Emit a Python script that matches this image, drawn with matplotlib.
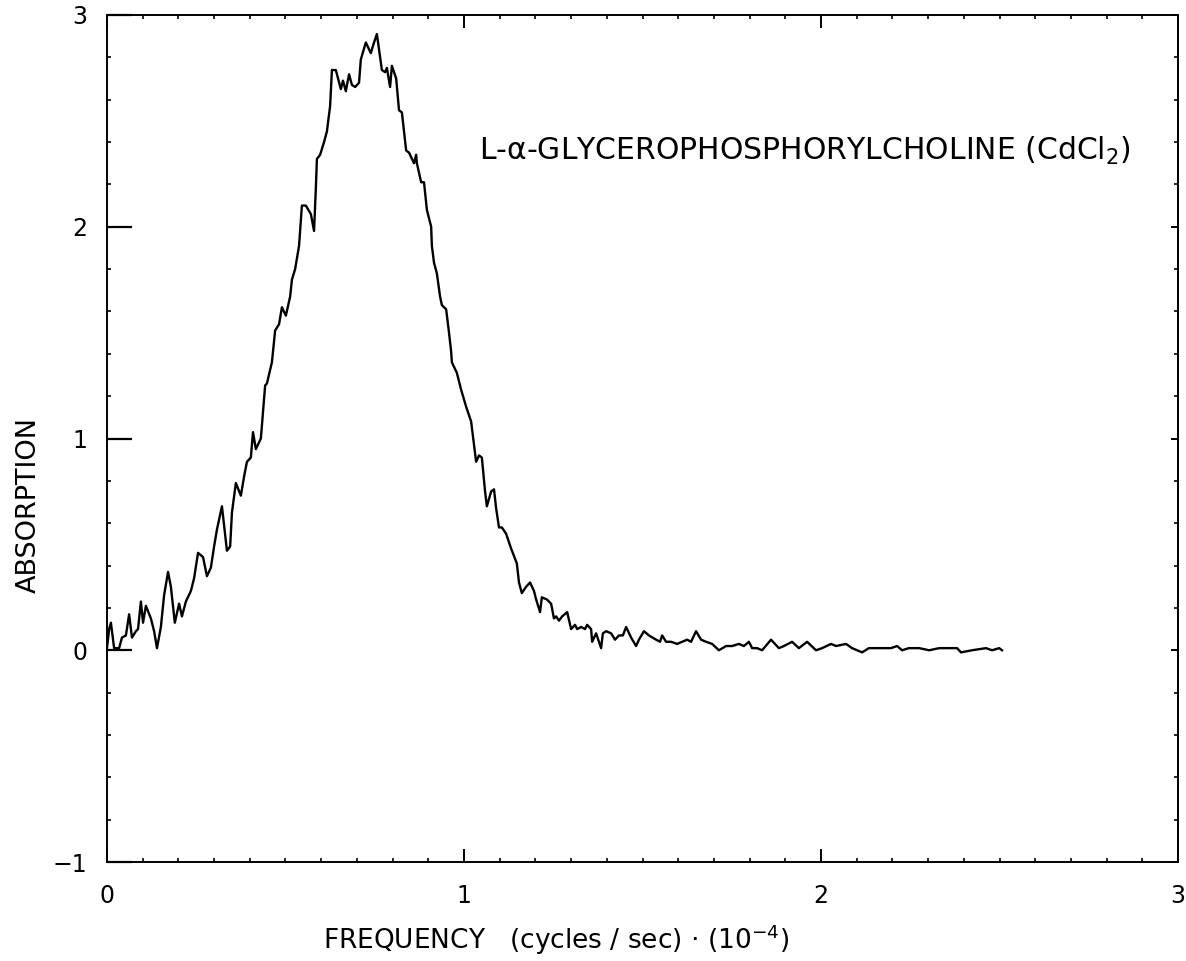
import numpy as np
import matplotlib
matplotlib.use("Agg")
import matplotlib.pyplot as plt
from matplotlib.ticker import MultipleLocator

# spectrum: frequency (x 10^-4 cycles/sec) vs absorption
freq = [0.000, 0.006, 0.011, 0.020, 0.034, 0.042, 0.053, 0.062, 0.070, 0.081,
        0.087, 0.095, 0.101, 0.109, 0.123, 0.132, 0.140, 0.151, 0.160, 0.171,
        0.179, 0.190, 0.202, 0.210, 0.221, 0.235, 0.244, 0.255, 0.269, 0.280,
        0.291, 0.300, 0.308, 0.322, 0.336, 0.345, 0.350, 0.361, 0.375, 0.384,
        0.392, 0.403, 0.409, 0.417, 0.431, 0.443, 0.448, 0.462, 0.471, 0.482,
        0.490, 0.501, 0.513, 0.518, 0.527, 0.538, 0.546, 0.557, 0.571, 0.580,
        0.585, 0.588, 0.597, 0.608, 0.616, 0.625, 0.630, 0.641, 0.655, 0.661,
        0.669, 0.678, 0.686, 0.695, 0.706, 0.711, 0.725, 0.739, 0.748, 0.756,
        0.770, 0.779, 0.784, 0.793, 0.798, 0.810, 0.818, 0.826, 0.838, 0.846,
        0.860, 0.866, 0.868, 0.880, 0.888, 0.896, 0.908, 0.910, 0.916, 0.924,
        0.933, 0.938, 0.950, 0.958, 0.964, 0.966, 0.980, 0.992, 1.006, 1.020,
        1.025, 1.031, 1.034, 1.042, 1.050, 1.059, 1.064, 1.076, 1.084, 1.090,
        1.098, 1.106, 1.118, 1.132, 1.148, 1.154, 1.162, 1.174, 1.185, 1.196,
        1.202, 1.213, 1.218, 1.232, 1.244, 1.252, 1.258, 1.266, 1.275, 1.289,
        1.300, 1.311, 1.317, 1.328, 1.339, 1.345, 1.356, 1.359, 1.370, 1.384,
        1.389, 1.398, 1.412, 1.423, 1.434, 1.445, 1.454, 1.468, 1.482, 1.490,
        1.504, 1.518, 1.538, 1.549, 1.555, 1.566, 1.580, 1.597, 1.611, 1.625,
        1.636, 1.650, 1.664, 1.678, 1.695, 1.714, 1.734, 1.751, 1.770, 1.784,
        1.798, 1.807, 1.821, 1.835, 1.860, 1.882, 1.896, 1.919, 1.938, 1.961,
        1.986, 2.003, 2.028, 2.042, 2.070, 2.087, 2.115, 2.134, 2.171, 2.196,
        2.213, 2.227, 2.246, 2.275, 2.303, 2.331, 2.353, 2.381, 2.392, 2.423,
        2.462, 2.479, 2.499, 2.507]

absorb = [0.01, 0.10, 0.13, 0.01, 0.01, 0.06, 0.07, 0.17, 0.06, 0.09,
          0.10, 0.23, 0.13, 0.21, 0.15, 0.09, 0.01, 0.11, 0.26, 0.37,
          0.30, 0.13, 0.22, 0.16, 0.23, 0.28, 0.34, 0.46, 0.44, 0.35,
          0.39, 0.49, 0.57, 0.68, 0.47, 0.49, 0.65, 0.79, 0.73, 0.82,
          0.89, 0.91, 1.03, 0.95, 1.00, 1.25, 1.26, 1.36, 1.51, 1.54,
          1.62, 1.58, 1.67, 1.75, 1.80, 1.91, 2.10, 2.10, 2.06, 1.98,
          2.18, 2.32, 2.34, 2.40, 2.45, 2.57, 2.74, 2.74, 2.65, 2.69,
          2.64, 2.72, 2.67, 2.66, 2.68, 2.79, 2.87, 2.82, 2.87, 2.91,
          2.74, 2.73, 2.75, 2.66, 2.76, 2.70, 2.55, 2.54, 2.36, 2.35,
          2.30, 2.34, 2.30, 2.21, 2.21, 2.08, 2.00, 1.91, 1.83, 1.78,
          1.67, 1.63, 1.61, 1.50, 1.41, 1.36, 1.31, 1.23, 1.15, 1.08,
          1.01, 0.93, 0.89, 0.92, 0.91, 0.75, 0.68, 0.75, 0.76, 0.67,
          0.58, 0.58, 0.55, 0.48, 0.41, 0.32, 0.27, 0.30, 0.32, 0.28,
          0.24, 0.18, 0.25, 0.24, 0.22, 0.15, 0.16, 0.14, 0.16, 0.18,
          0.10, 0.12, 0.10, 0.11, 0.10, 0.12, 0.10, 0.04, 0.08, 0.01,
          0.08, 0.09, 0.08, 0.05, 0.07, 0.07, 0.11, 0.06, 0.02, 0.05,
          0.09, 0.07, 0.05, 0.04, 0.07, 0.04, 0.04, 0.03, 0.04, 0.05,
          0.04, 0.09, 0.05, 0.04, 0.03, 0.00, 0.02, 0.02, 0.03, 0.02,
          0.04, 0.01, 0.01, 0.00, 0.05, 0.01, 0.02, 0.04, 0.01, 0.04,
          0.00, 0.01, 0.03, 0.02, 0.03, 0.01, -0.01, 0.01, 0.01, 0.01,
          0.02, 0.00, 0.01, 0.01, 0.00, 0.01, 0.01, 0.01, -0.01, 0.00,
          0.01, 0.00, 0.01, 0.00]

x_ticks = [0, 1, 2, 3]
x_ticklabels = ["0", "1", "2", "3"]
y_ticks = [-1, 0, 1, 2, 3]
y_ticklabels = ["\u22121", "0", "1", "2", "3"]

fig = plt.figure(figsize=(11.86, 9.61), dpi=100)
ax = fig.add_axes([0.0902, 0.1030, 0.9031, 0.8814])

ax.plot(freq, absorb, color="black", lw=1.7, solid_joinstyle="round")

ax.set_xlim(0, 3)
ax.set_ylim(-1, 3)
ax.set_xticks(x_ticks)
ax.set_xticklabels(x_ticklabels)
ax.set_yticks(y_ticks)
ax.set_yticklabels(y_ticklabels)
ax.xaxis.set_minor_locator(MultipleLocator(0.1))
ax.yaxis.set_minor_locator(MultipleLocator(0.2))

for s in ax.spines.values():
    s.set_linewidth(1.4)

ax.tick_params(axis="x", which="major", direction="in", top=True, length=9.5,
               width=1.4, pad=16, labelsize=17)
ax.tick_params(axis="x", which="minor", direction="in", top=True, length=3,
               width=1.2)
ax.tick_params(axis="y", which="major", direction="in", length=18, width=1.6,
               pad=14, labelsize=17)
ax.tick_params(axis="y", which="minor", direction="in", length=3, width=1.2)

# right side has its own short ticks
sec = ax.secondary_yaxis("right")
sec.set_yticks(y_ticks)
sec.yaxis.set_minor_locator(MultipleLocator(0.2))
sec.tick_params(which="major", direction="in", length=5, width=1.4,
                labelright=False)
sec.tick_params(which="minor", direction="in", length=3, width=1.2)
sec.spines["right"].set_linewidth(1.4)

ax.text(1.042, 2.36, "L-\u03b1-GLYCEROPHOSPHORYLCHOLINE (CdCl$_2$)",
        fontsize=21.5, va="center", ha="left")

fig.text(0.024, 0.4745, "ABSORPTION", rotation=90, fontsize=19.5,
         ha="center", va="center")
fig.text(0.469, 0.022, "FREQUENCY   (cycles / sec) \u00b7 (10$^{-4}$)",
         fontsize=19, ha="center", va="center")

fig.savefig("out.png", dpi=100)
